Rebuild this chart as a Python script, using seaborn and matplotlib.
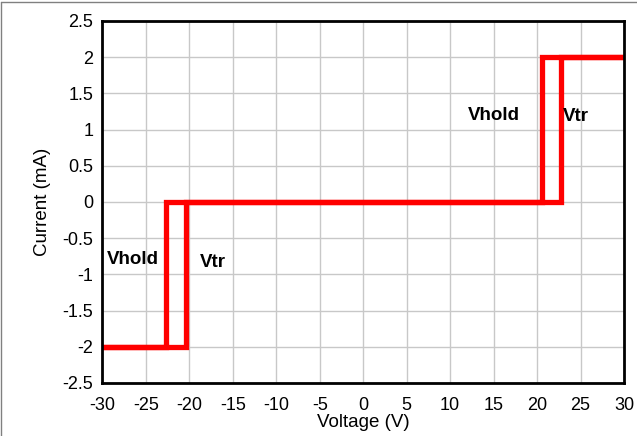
import seaborn as sns
import matplotlib.pyplot as plt
from matplotlib.lines import Line2D

# hysteresis loop, traced forward then back
voltage = [-30, -20.45, -20.45, 22.8, 22.8, 30, 30, 20.6, 20.6, -22.75, -22.75, -30]
current = [-2, -2, 0, 0, 2, 2, 2, 2, 0, 0, -2, -2]

x_ticks = list(range(-30, 31, 5))
y_ticks = [-2.5, -2, -1.5, -1, -0.5, 0, 0.5, 1, 1.5, 2, 2.5]
y_labels = ['-2.5', '-2', '-1.5', '-1', '-0.5', '0', '0.5', '1', '1.5', '2', '2.5']

sns.set_style('white')
plt.rcParams['font.family'] = ['Liberation Sans', 'DejaVu Sans']
plt.rcParams['text.color'] = 'black'
plt.rcParams['axes.labelcolor'] = 'black'
plt.rcParams['xtick.color'] = 'black'
plt.rcParams['ytick.color'] = 'black'

fig = plt.figure(figsize=(6.37, 4.36), dpi=100)
ax = fig.add_axes([0.1609, 0.1216, 0.8187, 0.8303])

sns.lineplot(x=voltage, y=current, sort=False, estimator=None, ax=ax,
             color='#ff0000', linewidth=3.8, solid_joinstyle='miter')

ax.set_xlim(-30, 30)
ax.set_ylim(-2.5, 2.5)
ax.set_xticks(x_ticks)
ax.set_xticklabels([str(t) for t in x_ticks])
ax.set_yticks(y_ticks)
ax.set_yticklabels(y_labels)
ax.tick_params(length=0, labelsize=13)
ax.tick_params(axis='x', pad=10)
ax.tick_params(axis='y', pad=6.5)
ax.grid(True, color='#c8c8c8', linewidth=1)
ax.set_axisbelow(True)
for sp in ax.spines.values():
    sp.set_color('black')
    sp.set_linewidth(2)

ax.set_xlabel('Voltage (V)', fontsize=13.5, labelpad=0)
ax.set_ylabel('Current (mA)', fontsize=13.5, labelpad=8)

lab = dict(fontsize=13.5, fontweight='bold', va='baseline', color='black')
ax.text(12.0, 1.13, 'Vhold', **lab)
ax.text(23.0, 1.12, 'Vtr', **lab)
ax.text(-29.45, -0.86, 'Vhold', **lab)
ax.text(-18.8, -0.9, 'Vtr', **lab)

# thin grey frame on the top and left edges of the picture
fig.add_artist(Line2D([0.001, 0.001], [0, 0.996], transform=fig.transFigure, color='#808080', lw=1))
fig.add_artist(Line2D([0.001, 1], [0.996, 0.996], transform=fig.transFigure, color='#808080', lw=1))

plt.savefig('out.png', dpi=100)
